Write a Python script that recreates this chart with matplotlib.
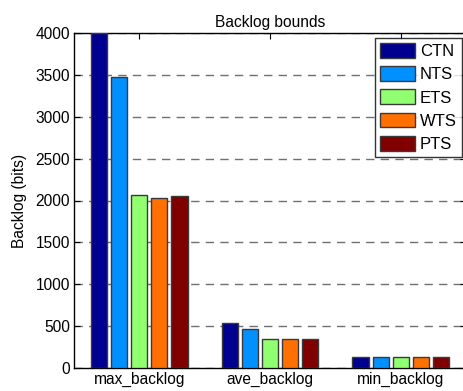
import numpy as np
import matplotlib.pyplot as plt

plt.rcParams['font.family'] = ['Liberation Sans', 'DejaVu Sans']

# Backlog bounds per metric for each scheduler
categories = ['max_backlog', 'ave_backlog', 'min_backlog']
schemes = ['CTN', 'NTS', 'ETS', 'WTS', 'PTS']
ctn = [4000, 535, 135]
nts = [3470, 460, 135]
ets = [2070, 345, 135]
wts = [2030, 345, 135]
pts = [2055, 345, 135]
colors = ['#000090', '#0090ff', '#90ff70', '#ff7000', '#800000']

fig = plt.figure(figsize=(4.63, 3.91), dpi=100)
ax = fig.add_axes([74 / 463, 1 - 368 / 391, 392 / 463, 335 / 391])

# grouped bars, MATLAB-style spacing
x = np.arange(1, len(categories) + 1)
n = len(schemes)
group_w = n / (n + 1.5)
slot = group_w / n
for i, (vals, name, c) in enumerate(zip([ctn, nts, ets, wts, pts], schemes, colors)):
    offset = -group_w / 2 + slot * (i + 0.5)
    ax.bar(x + offset, vals, width=slot * 0.8, color=c, edgecolor='#3a3a3a',
           linewidth=1.0, label=name, zorder=3)

ax.set_xlim(0.5, 3.5)
ax.set_ylim(0, 4000)
ax.set_yticks(np.arange(0, 4001, 500))
ax.set_xticks(x)
ax.set_xticklabels(categories)
ax.yaxis.grid(True, linestyle=(0, (6, 4.5)), color='#707070', linewidth=1.0, zorder=0)
ax.set_axisbelow(True)
ax.tick_params(direction='in', length=4, labelsize=11.2, top=True, right=True, pad=3)
for s in ax.spines.values():
    s.set_linewidth(1.0)

ax.set_ylabel('Backlog (bits)', fontsize=11.2, labelpad=6)
ax.set_title('Backlog bounds', fontsize=11.2, pad=4)

leg = ax.legend(loc='upper right', bbox_to_anchor=(388 / 392, 0.985), fontsize=12,
                frameon=True, fancybox=False, edgecolor='black', borderpad=0.3,
                handlelength=2.1, handleheight=1.0, handletextpad=0.3,
                labelspacing=0.42, borderaxespad=0)
leg.get_frame().set_linewidth(1.0)

plt.savefig('out.png', dpi=100)
